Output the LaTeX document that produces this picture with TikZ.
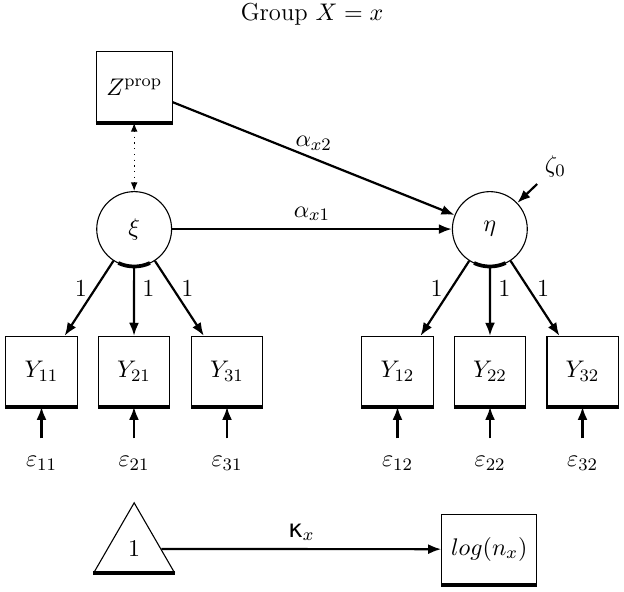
\documentclass[tikz,border=0pt]{standalone}
\usepackage{fontspec}
\newfontfamily\kapfont{DejaVu Sans}
\usetikzlibrary{shapes.geometric,arrows.meta}
\begin{document}
\begin{tikzpicture}[>={Latex[length=2.1mm,width=1.6mm]},
every node/.style={font=\fontsize{11.2}{13}\selectfont},
obs/.style={draw,line width=0.5pt,minimum width=1.14cm,minimum height=1.12cm},
lat/.style={draw,circle,line width=0.5pt,minimum size=1.2cm},
eff/.style={->,line width=1pt},
bot/.style={line width=1.7pt}]
\useasboundingbox (0,0) rectangle (10,9.471);
\node (title) at (5,9.25) {Group $X=x$};
\node[obs,minimum width=1.22cm,minimum height=1.14cm] (z) at (2.15,8.08) {$Z^{\mathrm{prop}}$};
\node[lat] (xi) at (2.15,5.80) {$\xi$};
\node[lat] (eta) at (7.85,5.80) {$\eta$};
\node (zeta) at (8.9,6.8) {$\zeta_0$};
\foreach \i/\x in {1/0.665,2/2.147,3/3.638}{
\node[obs] (y\i1) at (\x,3.52) {$Y_{\i1}$};
\node (e\i1) at (\x,2.05) {$\varepsilon_{\i1}$};}
\foreach \i/\x in {1/6.37,2/7.853,3/9.335}{
\node[obs] (y\i2) at (\x,3.52) {$Y_{\i2}$};
\node (e\i2) at (\x,2.05) {$\varepsilon_{\i2}$};}
\node[draw,regular polygon,regular polygon sides=3,minimum size=1.48cm,inner sep=0pt,line width=0.5pt] (one) at (2.15,0.673) {$1$};
\node[obs,minimum width=1.52cm] (logn) at (7.84,0.67) {$log(n_x)$};
% paths
\draw[{Latex[length=1.4mm,width=1.1mm]}-{Latex[length=1.4mm,width=1.1mm]},dotted,line width=0.6pt] (z) -- (xi);
\draw[eff] (z) -- node[above]{$\alpha_{x2}$} (eta);
\draw[eff] (xi) -- node[above]{$\alpha_{x1}$} (eta);
\draw[eff] (zeta) -- (eta);
\draw[eff] (xi) -- node[pos=0.37,left]{1} (y11);
\draw[eff] (xi) -- node[pos=0.31,right]{1} (y21);
\draw[eff] (xi) -- node[pos=0.37,right]{1} (y31);
\draw[eff] (eta) -- node[pos=0.37,left]{1} (y12);
\draw[eff] (eta) -- node[pos=0.31,right]{1} (y22);
\draw[eff] (eta) -- node[pos=0.37,right]{1} (y32);
\foreach \n in {11,21,31,12,22,32}{\draw[eff,shorten <=1.6mm] (e\n) -- (y\n);}
\draw[eff] (one) -- node[above]{{\kapfont κ}$_x$} (logn);
% thick bottoms
\foreach \n in {z,y11,y21,y31,y12,y22,y32,logn}{\draw[bot] (\n.south west) -- (\n.south east);}
\foreach \n in {xi,eta}{\draw[bot] ([shift={(245:0.6)}]\n.center) arc[start angle=245,end angle=295,radius=0.6];}
\draw[bot] (one.corner 2) -- (one.corner 3);
\end{tikzpicture}
\end{document}
